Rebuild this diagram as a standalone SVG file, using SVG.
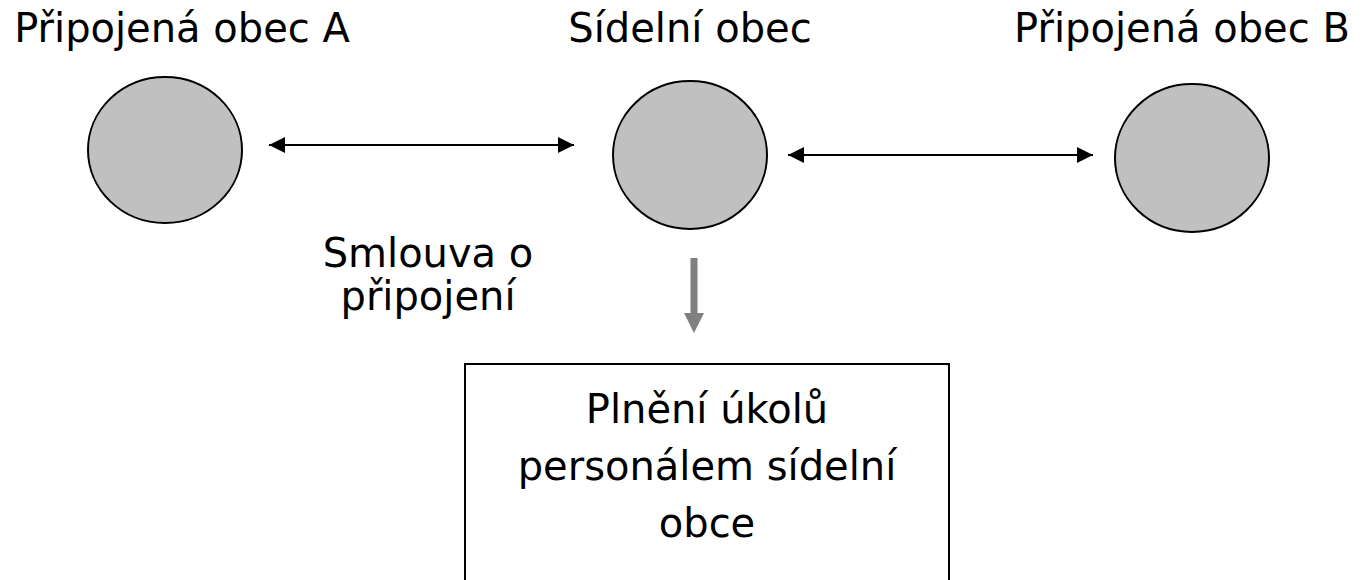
<svg xmlns="http://www.w3.org/2000/svg" width="1362" height="580" viewBox="0 0 1362 580">
<defs>
<style>
.t{font-family:Verdana,"DejaVu Sans",sans-serif;font-size:40px;fill:#000;text-anchor:middle}
.c{fill:#c0c0c0;stroke:#000;stroke-width:2}
.l{stroke:#000;stroke-width:2;fill:none}
</style>
<marker id="ah" viewBox="0 0 16 16" refX="16" refY="8" markerWidth="16" markerHeight="16" markerUnits="userSpaceOnUse" orient="auto-start-reverse">
<path d="M0,0 L16,8 L0,16 Z" fill="#000"/>
</marker>
</defs>
<rect width="1362" height="580" fill="#fff"/>
<g id="nodeA">
<ellipse class="c" cx="165" cy="150" rx="77" ry="73"/>
<text class="t" x="182" y="42">Připojená obec A</text>
</g>
<g id="nodeS">
<ellipse class="c" cx="690" cy="155" rx="77" ry="74"/>
<text class="t" x="690" y="42">Sídelní obec</text>
</g>
<g id="nodeB">
<ellipse class="c" cx="1192" cy="158" rx="77" ry="74"/>
<text class="t" x="1182" y="42">Připojená obec B</text>
</g>
<g id="label">
<text class="t" x="428" y="267">Smlouva o</text>
<text class="t" x="428" y="310">připojení</text>
</g>
<g id="box">
<rect x="465" y="364" width="484" height="260" fill="#fff" stroke="#000" stroke-width="2"/>
<text class="t" x="707" y="423">Plnění úkolů</text>
<text class="t" x="707" y="480">personálem sídelní</text>
<text class="t" x="707" y="537">obce</text>
</g>
<g id="connectors">
<line class="l" x1="269" y1="145" x2="574" y2="145" marker-start="url(#ah)" marker-end="url(#ah)"/>
<line class="l" x1="788" y1="155" x2="1093" y2="155" marker-start="url(#ah)" marker-end="url(#ah)"/>
<path d="M690.5,258 H697.5 V313 H704 L694,333 L684,313 H690.5 Z" fill="#808080"/>
</g>
</svg>
